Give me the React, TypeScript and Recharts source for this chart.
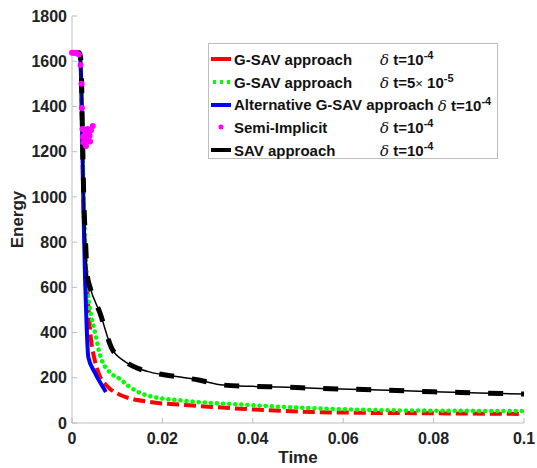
import React from "react";
import {
  ComposedChart, Line, Scatter, XAxis, YAxis, Legend,
} from "recharts";

// energy curves, [time, energy]
const gsav1e4: [number, number][] = [
  [0, 1637], [0.0015, 1637], [0.0019, 1600], [0.0022, 1350], [0.0025, 1000], [0.0028, 800],
  [0.0032, 650], [0.0036, 520], [0.0041, 390], [0.005, 280], [0.006, 215], [0.008, 159],
  [0.0106, 125], [0.0173, 93], [0.025, 80], [0.031, 71], [0.04, 60], [0.053, 49],
  [0.065, 45], [0.08, 43], [0.1, 40],
];
const gsav5e5: [number, number][] = [
  [0, 1637], [0.0015, 1637], [0.0019, 1600], [0.0022, 1350], [0.0026, 1000], [0.003, 750],
  [0.0034, 600], [0.0042, 480], [0.005, 410], [0.0062, 300], [0.0085, 222], [0.0106, 195],
  [0.0124, 165], [0.0166, 122], [0.025, 98], [0.0387, 80], [0.05, 68], [0.068, 57],
  [0.085, 54], [0.1, 53],
];
const altGsav: [number, number][] = [
  [0, 1637], [0.0015, 1637], [0.0018, 1620], [0.0021, 1450], [0.0024, 1100], [0.0027, 800],
  [0.0029, 632], [0.0032, 450], [0.0036, 292], [0.005, 225], [0.0065, 170], [0.0075, 137],
];
const semiImplicit: [number, number][] = [
  [0, 1637], [0.0005, 1637], [0.001, 1637], [0.0015, 1630], [0.0019, 1583], [0.0021, 1500],
  [0.0022, 1393], [0.0023, 1300], [0.0024, 1265], [0.0026, 1240], [0.0028, 1275],
  [0.003, 1290], [0.0031, 1225], [0.0032, 1262], [0.0034, 1300], [0.0035, 1250],
  [0.0037, 1283], [0.0039, 1270], [0.004, 1245], [0.0042, 1295], [0.0046, 1313],
];
const sav: [number, number][] = [
  [0, 1637], [0.0016, 1637], [0.002, 1600], [0.0023, 1300], [0.0026, 1000], [0.003, 800],
  [0.0034, 650], [0.004, 600], [0.0062, 486], [0.0088, 330], [0.0115, 275], [0.0144, 243],
  [0.0173, 225], [0.024, 203], [0.028, 190], [0.0334, 168], [0.04, 162], [0.046, 159],
  [0.055, 153], [0.068, 146], [0.08, 138], [0.09, 133], [0.1, 128],
];

const xTicks = [0, 0.02, 0.04, 0.06, 0.08, 0.1];
const yTicks = [0, 200, 400, 600, 800, 1000, 1200, 1400, 1600, 1800];

const toRows = (d: [number, number][]) => d.map(([t, e]) => ({ t, e }));

const AXIS = "#bdbdbd";
const FONT = "'Liberation Sans', Arial, Helvetica, sans-serif";
const tickStyle = { fontSize: 16, fontWeight: 700, fill: "#222", fontFamily: FONT };

const legendRows = [
  { name: "G-SAV approach", dt: "10", exp: "-4", kind: "red" },
  { name: "G-SAV approach", dt: "5", exp: "-5", kind: "green" },
  { name: "Alternative G-SAV approach", dt: "10", exp: "-4", kind: "blue" },
  { name: "Semi-Implicit", dt: "10", exp: "-4", kind: "dot" },
  { name: "SAV approach", dt: "10", exp: "-4", kind: "black" },
];

function Sample({ kind }: { kind: string }) {
  return (
    <svg width={20} height={10} style={{ display: "block" }}>
      {kind === "red" && <line x1={0} y1={5} x2={20} y2={5} stroke="#ff0000" strokeWidth={4} />}
      {kind === "green" && (
        <line x1={2} y1={5} x2={20} y2={5} stroke="#00ff00" strokeWidth={4} strokeDasharray="3 4" />
      )}
      {kind === "blue" && <line x1={0} y1={5} x2={20} y2={5} stroke="#0000ff" strokeWidth={4} />}
      {kind === "dot" && <circle cx={10} cy={5} r={2.5} fill="#ff00ff" />}
      {kind === "black" && <line x1={0} y1={5} x2={20} y2={5} stroke="#000" strokeWidth={4} />}
    </svg>
  );
}

function LegendBox() {
  return (
    <div
      style={{
        width: 290, height: 116, boxSizing: "border-box", border: `1px solid ${AXIS}`,
        background: "#fff", paddingTop: 4, fontFamily: FONT, fontWeight: 700, fontSize: 15, color: "#111",
      }}
    >
      {legendRows.map((r, i) => (
        <div key={i} style={{ display: "flex", alignItems: "center", height: 22.7, whiteSpace: "nowrap" }}>
          <div style={{ width: 25, paddingLeft: 2, boxSizing: "border-box" }}>
            <Sample kind={r.kind} />
          </div>
          <span style={{ minWidth: 146, display: "inline-block" }}>{r.name}</span>
          <span style={{ marginLeft: r.kind === "blue" ? 4 : 0 }}>
            <span style={{ fontFamily: "'DejaVu Serif', 'Liberation Serif', serif", fontStyle: "italic", fontWeight: 400 }}>δ</span>
            {" t="}
            {r.kind === "green" ? (
              <>
                5<span style={{ fontWeight: 400, fontSize: 13 }}>×</span> 10
              </>
            ) : (
              r.dt
            )}
            <sup style={{ fontSize: 11, verticalAlign: 6 }}>{r.exp}</sup>
          </span>
        </div>
      ))}
    </div>
  );
}

export default function App() {
  return (
    <div style={{ position: "absolute", left: 0, top: 0, background: "#fff" }}>
      <ComposedChart width={537} height={468} margin={{ top: 16, right: 13, left: 12, bottom: 0 }}>
        <XAxis
          xAxisId={0}
          dataKey="t"
          type="number"
          domain={[0, 0.1]}
          ticks={xTicks}
          interval={0}
          tickFormatter={(v: number) => String(v)}
          stroke={AXIS}
          tickSize={-5}
          tickMargin={15}
          tick={tickStyle}
          height={45}
          allowDuplicatedCategory={false}
          label={{ value: "Time", position: "insideBottom", offset: 5, style: { ...tickStyle, fontSize: 17 } }}
        />
        <XAxis
          xAxisId="top"
          orientation="top"
          dataKey="t"
          type="number"
          domain={[0, 0.1]}
          ticks={xTicks}
          interval={0}
          tickFormatter={() => ""}
          stroke={AXIS}
          tickSize={-5}
          height={0}
        />
        <YAxis
          yAxisId={0}
          type="number"
          domain={[0, 1800]}
          ticks={yTicks}
          interval={0}
          stroke={AXIS}
          tickSize={-5}
          tickMargin={10}
          tick={tickStyle}
          width={60}
          label={{
            value: "Energy", angle: -90, position: "insideLeft", offset: 5,
            style: { ...tickStyle, fontSize: 17, textAnchor: "middle" },
          }}
        />
        <YAxis
          yAxisId="right"
          orientation="right"
          type="number"
          domain={[0, 1800]}
          ticks={yTicks}
          interval={0}
          tickFormatter={() => ""}
          stroke={AXIS}
          tickSize={-5}
          width={0}
        />
        <Line data={toRows(gsav1e4)} dataKey="e" type="monotone" stroke="#ff0000" strokeWidth={4}
          strokeDasharray="12 5" dot={false} isAnimationActive={false} />
        <Line data={toRows(gsav5e5)} dataKey="e" type="monotone" stroke="#00ff00" strokeWidth={4.5}
          strokeDasharray="0.1 6" strokeLinecap="round" dot={false} isAnimationActive={false} />
        <Line data={toRows(altGsav)} dataKey="e" type="monotone" stroke="#0000ff" strokeWidth={4}
          dot={false} isAnimationActive={false} />
        <Line data={toRows(sav)} dataKey="e" type="monotone" stroke="#000" strokeWidth={1.5}
          dot={false} isAnimationActive={false} legendType="none" />
        <Line data={toRows(sav)} dataKey="e" type="monotone" stroke="#000" strokeWidth={5}
          strokeDasharray="15 18" dot={false} isAnimationActive={false} />
        <Scatter data={toRows(semiImplicit)} dataKey="e" fill="#ff00ff" isAnimationActive={false}
          shape={(p: any) => <circle cx={p.cx} cy={p.cy} r={3} fill="#ff00ff" />} />
        <Legend
          layout="vertical"
          align="center"
          verticalAlign="middle"
          content={() => <LegendBox />}
          wrapperStyle={{ left: 208, top: 43, width: 290, height: 116 }}
        />
      </ComposedChart>
    </div>
  );
}
